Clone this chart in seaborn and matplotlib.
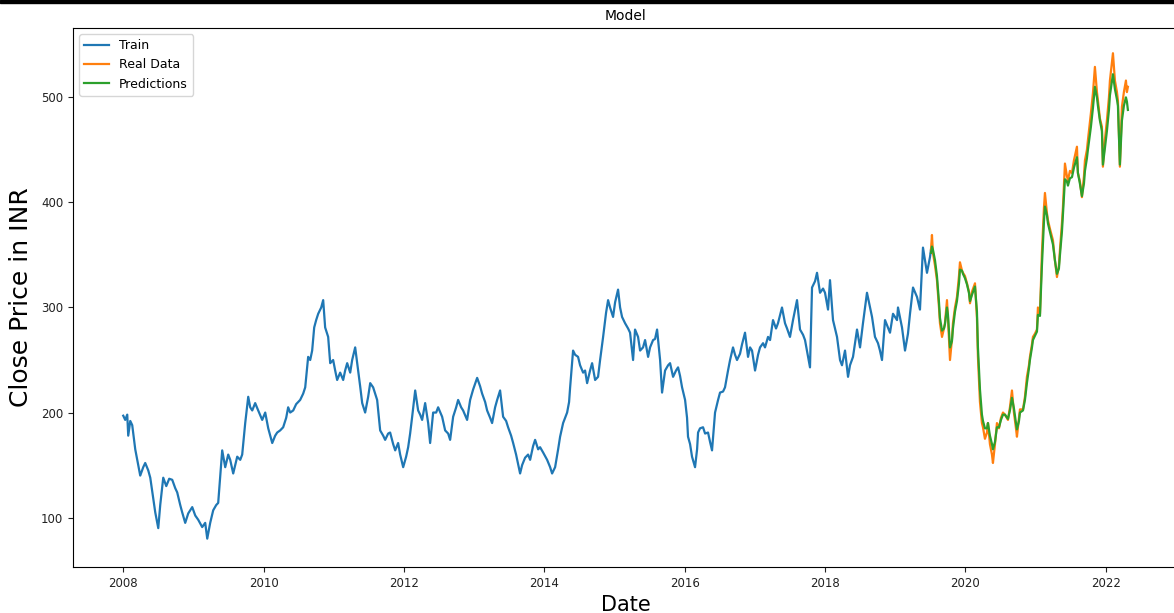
import numpy as np
import pandas as pd
import matplotlib
matplotlib.use("Agg")
import matplotlib.pyplot as plt
import matplotlib.dates as mdates
from matplotlib.patches import Rectangle
import seaborn as sns

# ---- data (dates as years elapsed since 2008-01-01, close prices in INR) ----
train_t = [0.000, 0.028, 0.057, 0.071, 0.100, 0.128, 0.171, 0.214, 0.242, 0.285,
           0.313, 0.356, 0.385, 0.413, 0.456, 0.499, 0.527, 0.570, 0.613, 0.655,
           0.698, 0.741, 0.769, 0.812, 0.840, 0.883, 0.926, 0.983, 1.026, 1.068,
           1.125, 1.168, 1.197, 1.239, 1.282, 1.325, 1.353, 1.382, 1.410, 1.453,
           1.496, 1.524, 1.567, 1.595, 1.624, 1.667, 1.695, 1.738, 1.781, 1.809,
           1.838, 1.880, 1.923, 1.980, 2.023, 2.066, 2.123, 2.165, 2.194, 2.236,
           2.279, 2.322, 2.350, 2.379, 2.422, 2.464, 2.521, 2.564, 2.593, 2.635,
           2.664, 2.692, 2.721, 2.749, 2.778, 2.821, 2.849, 2.877, 2.920, 2.949,
           2.991, 3.020, 3.048, 3.091, 3.134, 3.162, 3.191, 3.234, 3.262, 3.305,
           3.348, 3.376, 3.405, 3.447, 3.490, 3.519, 3.561, 3.618, 3.661, 3.704,
           3.732, 3.775, 3.803, 3.846, 3.875, 3.917, 3.946, 3.989, 4.031, 4.060,
           4.088, 4.117, 4.160, 4.202, 4.231, 4.259, 4.302, 4.345, 4.373, 4.416,
           4.459, 4.487, 4.544, 4.587, 4.630, 4.658, 4.701, 4.744, 4.772, 4.815,
           4.843, 4.900, 4.943, 4.986, 5.043, 5.085, 5.114, 5.157, 5.185, 5.228,
           5.256, 5.299, 5.328, 5.370, 5.413, 5.456, 5.484, 5.527, 5.556, 5.598,
           5.655, 5.684, 5.726, 5.769, 5.798, 5.840, 5.869, 5.912, 5.940, 5.983,
           6.040, 6.083, 6.111, 6.154, 6.197, 6.225, 6.268, 6.325, 6.353, 6.368,
           6.410, 6.439, 6.481, 6.510, 6.553, 6.581, 6.610, 6.652, 6.681, 6.724,
           6.766, 6.795, 6.838, 6.880, 6.909, 6.937, 6.980, 7.009, 7.051, 7.080,
           7.108, 7.151, 7.194, 7.222, 7.265, 7.293, 7.336, 7.365, 7.407, 7.436,
           7.479, 7.507, 7.550, 7.578, 7.607, 7.650, 7.678, 7.721, 7.764, 7.792,
           7.835, 7.877, 7.906, 7.934, 7.963, 8.006, 8.034, 8.048, 8.077, 8.105,
           8.148, 8.177, 8.191, 8.219, 8.262, 8.291, 8.333, 8.362, 8.390, 8.433,
           8.476, 8.504, 8.547, 8.575, 8.618, 8.647, 8.689, 8.718, 8.746, 8.789,
           8.818, 8.860, 8.903, 8.932, 8.960, 9.003, 9.046, 9.074, 9.117, 9.145,
           9.188, 9.217, 9.259, 9.302, 9.330, 9.387, 9.430, 9.459, 9.501, 9.544,
           9.601, 9.644, 9.687, 9.715, 9.758, 9.786, 9.815, 9.858, 9.886, 9.929,
           9.972, 10.000, 10.043, 10.071, 10.114, 10.142, 10.171, 10.214, 10.242, 10.285,
           10.328, 10.356, 10.399, 10.456, 10.499, 10.541, 10.570, 10.598, 10.641, 10.670,
           10.712, 10.755, 10.783, 10.812, 10.855, 10.897, 10.926, 10.969, 11.026, 11.040,
           11.097, 11.140, 11.182, 11.211, 11.254, 11.311, 11.353, 11.396, 11.425, 11.453,
           11.496, 11.510]
train_close = [197, 193, 198, 178, 192, 188, 165, 150, 140, 148,
               152, 145, 138, 125, 105, 90, 112, 138, 130, 137,
               136, 128, 124, 112, 105, 95, 104, 110, 102, 98,
               91, 95, 80, 95, 107, 112, 114, 140, 164, 148,
               160, 155, 142, 150, 158, 155, 160, 190, 215, 205,
               202, 209, 202, 193, 200, 185, 171, 178, 181, 183,
               186, 195, 205, 200, 202, 208, 212, 218, 224, 253,
               250, 259, 281, 288, 294, 300, 307, 281, 272, 247,
               250, 240, 231, 238, 231, 240, 247, 238, 250, 262,
               240, 225, 209, 200, 215, 228, 224, 212, 183, 178,
               174, 180, 181, 170, 164, 171, 160, 148, 158, 167,
               180, 196, 221, 202, 198, 193, 209, 190, 171, 200,
               200, 205, 196, 183, 180, 174, 196, 205, 212, 205,
               202, 193, 212, 222, 233, 225, 218, 210, 202, 195,
               190, 205, 212, 221, 196, 192, 186, 178, 171, 160,
               142, 150, 157, 160, 155, 168, 174, 165, 167, 162,
               155, 148, 142, 148, 165, 177, 190, 200, 210, 224,
               259, 255, 253, 245, 238, 240, 228, 240, 247, 231,
               234, 250, 272, 295, 307, 300, 291, 305, 317, 300,
               291, 285, 280, 276, 250, 279, 272, 259, 262, 269,
               253, 262, 269, 270, 279, 250, 219, 240, 245, 247,
               234, 240, 243, 235, 224, 212, 195, 177, 170, 158,
               148, 165, 181, 185, 186, 180, 181, 172, 164, 200,
               212, 219, 220, 224, 240, 250, 262, 255, 250, 256,
               265, 276, 253, 262, 259, 240, 255, 262, 266, 262,
               272, 269, 288, 280, 285, 300, 285, 280, 272, 288,
               307, 279, 274, 269, 253, 243, 319, 325, 333, 314,
               318, 314, 298, 326, 288, 280, 272, 250, 245, 259,
               234, 245, 253, 279, 262, 285, 300, 314, 300, 291,
               272, 266, 259, 250, 288, 281, 276, 294, 288, 300,
               281, 259, 275, 294, 319, 310, 298, 357, 345, 333,
               348, 355]

test_t = [11.510, 11.524, 11.538, 11.567, 11.595, 11.624, 11.638, 11.667, 11.695, 11.709,
          11.738, 11.752, 11.781, 11.809, 11.823, 11.852, 11.880, 11.909, 11.923, 11.952,
          11.966, 11.994, 12.023, 12.051, 12.066, 12.094, 12.137, 12.165, 12.179, 12.208,
          12.236, 12.251, 12.279, 12.308, 12.322, 12.350, 12.379, 12.393, 12.422, 12.450,
          12.479, 12.507, 12.536, 12.564, 12.607, 12.635, 12.664, 12.692, 12.721, 12.735,
          12.764, 12.778, 12.821, 12.849, 12.877, 12.906, 12.920, 12.949, 12.963, 12.991,
          13.020, 13.034, 13.063, 13.091, 13.120, 13.134, 13.162, 13.177, 13.205, 13.248,
          13.276, 13.305, 13.333, 13.348, 13.376, 13.390, 13.419, 13.447, 13.462, 13.490,
          13.519, 13.547, 13.590, 13.604, 13.632, 13.661, 13.690, 13.704, 13.732, 13.746,
          13.789, 13.818, 13.846, 13.875, 13.889, 13.917, 13.946, 13.960, 13.989, 14.017,
          14.046, 14.060, 14.103, 14.131, 14.160, 14.174, 14.202, 14.231, 14.259, 14.288,
          14.302, 14.316]
real_close = [355, 369, 352, 340, 326, 300, 285, 272, 280, 285,
              307, 290, 250, 270, 285, 300, 310, 330, 343, 335,
              333, 330, 323, 315, 304, 315, 323, 290, 253, 210,
              190, 186, 175, 181, 190, 170, 160, 152, 170, 190,
              185, 195, 200, 198, 193, 205, 221, 200, 185, 177,
              195, 203, 203, 215, 234, 245, 253, 265, 272, 275,
              279, 300, 294, 352, 395, 409, 390, 383, 375, 364,
              345, 329, 340, 355, 380, 395, 437, 425, 421, 430,
              428, 440, 453, 428, 420, 405, 425, 440, 450, 459,
              485, 504, 529, 505, 497, 480, 472, 434, 460, 478,
              500, 516, 542, 516, 505, 497, 434, 491, 505, 516,
              505, 510]
pred_close = [352, 358, 355, 345, 330, 305, 290, 278, 280, 284,
              300, 293, 262, 268, 280, 296, 306, 323, 336, 335,
              332, 328, 322, 314, 306, 312, 320, 296, 262, 222,
              198, 192, 185, 185, 190, 178, 170, 165, 172, 186,
              186, 193, 198, 198, 194, 202, 214, 204, 190, 184,
              192, 200, 202, 212, 228, 242, 250, 262, 269, 273,
              277, 293, 292, 340, 382, 396, 388, 380, 372, 360,
              345, 332, 337, 350, 372, 388, 422, 420, 416, 423,
              424, 433, 443, 428, 418, 406, 418, 430, 442, 450,
              472, 490, 510, 500, 492, 478, 468, 436, 452, 468,
              488, 502, 522, 508, 498, 492, 436, 478, 492, 500,
              496, 488]


def to_dates(years_since_2008):
    off = np.asarray(years_since_2008, dtype=float)
    return pd.Timestamp("2008-01-01") + pd.to_timedelta(off * 365.25, unit="D")


W, H = 1174, 613
fig = plt.figure(figsize=(W / 100, H / 100), dpi=100)
ax = fig.add_axes([73 / W, 1 - 567 / H, (1178 - 73) / W, (567 - 28) / H])

sns.lineplot(x=to_dates(train_t), y=train_close, ax=ax, color="#1f77b4",
             linewidth=1.6, label="Train", estimator=None, sort=False)
sns.lineplot(x=to_dates(test_t), y=real_close, ax=ax, color="#ff7f0e",
             linewidth=1.6, label="Real Data", estimator=None, sort=False)
sns.lineplot(x=to_dates(test_t), y=pred_close, ax=ax, color="#2ca02c",
             linewidth=1.6, label="Predictions", estimator=None, sort=False)

ax.set_xlim(to_dates([-0.716, 15.03]))
ax.set_ylim(53, 566)
ax.set_yticks([100, 200, 300, 400, 500])
ax.xaxis.set_major_locator(mdates.YearLocator(2))
ax.xaxis.set_major_formatter(mdates.DateFormatter("%Y"))
ax.tick_params(labelsize=8.5, colors="#222222")

ax.set_title("Model", fontsize=10)
ax.set_xlabel("Date", fontsize=15)
ax.set_ylabel("Close Price in INR", fontsize=18, labelpad=6)
ax.legend(loc="upper left", fontsize=9)

# thin black band at the very top of the screenshot
fig.add_artist(Rectangle((0, 1 - 2.5 / H), 1, 2.5 / H, transform=fig.transFigure,
                         color="black", zorder=10))

fig.savefig("out.png", dpi=100)
